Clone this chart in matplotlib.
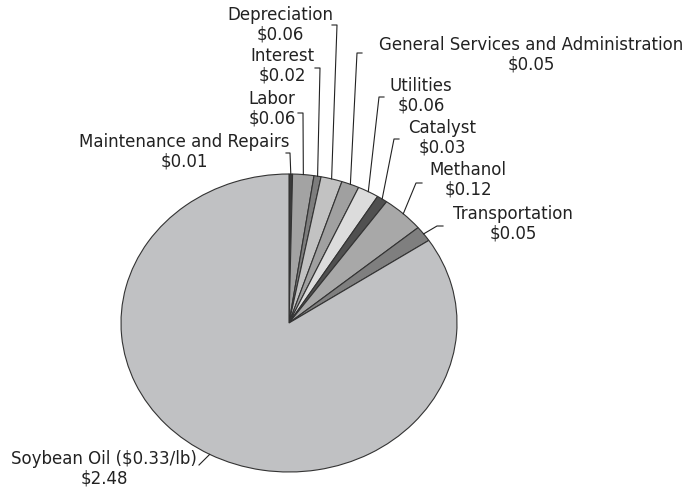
import matplotlib.pyplot as plt
import numpy as np

plt.rcParams['font.family'] = ['DejaVu Sans']

# Data
categories = ['Maintenance and Repairs', 'Labor', 'Interest', 'Depreciation',
              'General Services and Administration', 'Utilities', 'Catalyst',
              'Methanol', 'Transportation', 'Soybean Oil ($0.33/lb)']
costs = [0.01, 0.06, 0.02, 0.06, 0.05, 0.06, 0.03, 0.12, 0.05, 2.48]
colors = ['#3a3a3a', '#a3a3a3', '#7d7d7d', '#c2c2c2', '#a0a0a0',
          '#dcdcdc', '#505050', '#a8a8a8', '#7f7f7f', '#c0c1c3']

# Layout in pixels: pie center / radii, label centers, leader elbows
cx, cy, rx, ry = 289, 323, 168, 149
label_xy = [(184, 152), (272, 109), (282, 66), (280, 25), (531, 55),
            (421, 96), (442, 138), (468, 180), (513, 224), (104, 469)]
elbow_xy = [(290, 153), (303, 113), (320, 68), (337, 25), (357, 53),
            (379, 97), (394, 139), (416, 183), (437, 226), (199, 465)]
stub_x = [286, 298, 315, 332, 362, 384, 399, 422, 443, 199]


def to_data(x, y):
    return (x - cx) / rx, (cy - y) / ry


fig = plt.figure(figsize=(6.96, 4.91), dpi=100)
ax = fig.add_axes([0, 0, 1, 1])

wedges, _ = ax.pie(costs, colors=colors, startangle=90, counterclock=False,
                   radius=1, center=(0, 0),
                   wedgeprops={'edgecolor': '#333333', 'linewidth': 0.8})

ax.set_aspect('auto')
ax.set_xlim(-cx / rx, (696 - cx) / rx)
ax.set_ylim(-(491 - cy) / ry, cy / ry)
ax.axis('off')

for w, name, val, (tx, ty), (ex, ey), sx in zip(
        wedges, categories, costs, label_xy, elbow_xy, stub_x):
    theta = np.deg2rad((w.theta1 + w.theta2) / 2)
    px, py = np.cos(theta), np.sin(theta)
    ex_d, ey_d = to_data(ex, ey)
    sx_d, _ = to_data(sx, ey)
    ax.plot([px, ex_d, sx_d], [py, ey_d, ey_d], color='#222222', lw=0.8)
    lx, ly = to_data(tx, ty)
    ax.text(lx, ly, f'{name}\n${val:.2f}', ha='center', va='center',
            fontsize=12, color='#222222', linespacing=1.12)

fig.savefig('out.png', dpi=100)
